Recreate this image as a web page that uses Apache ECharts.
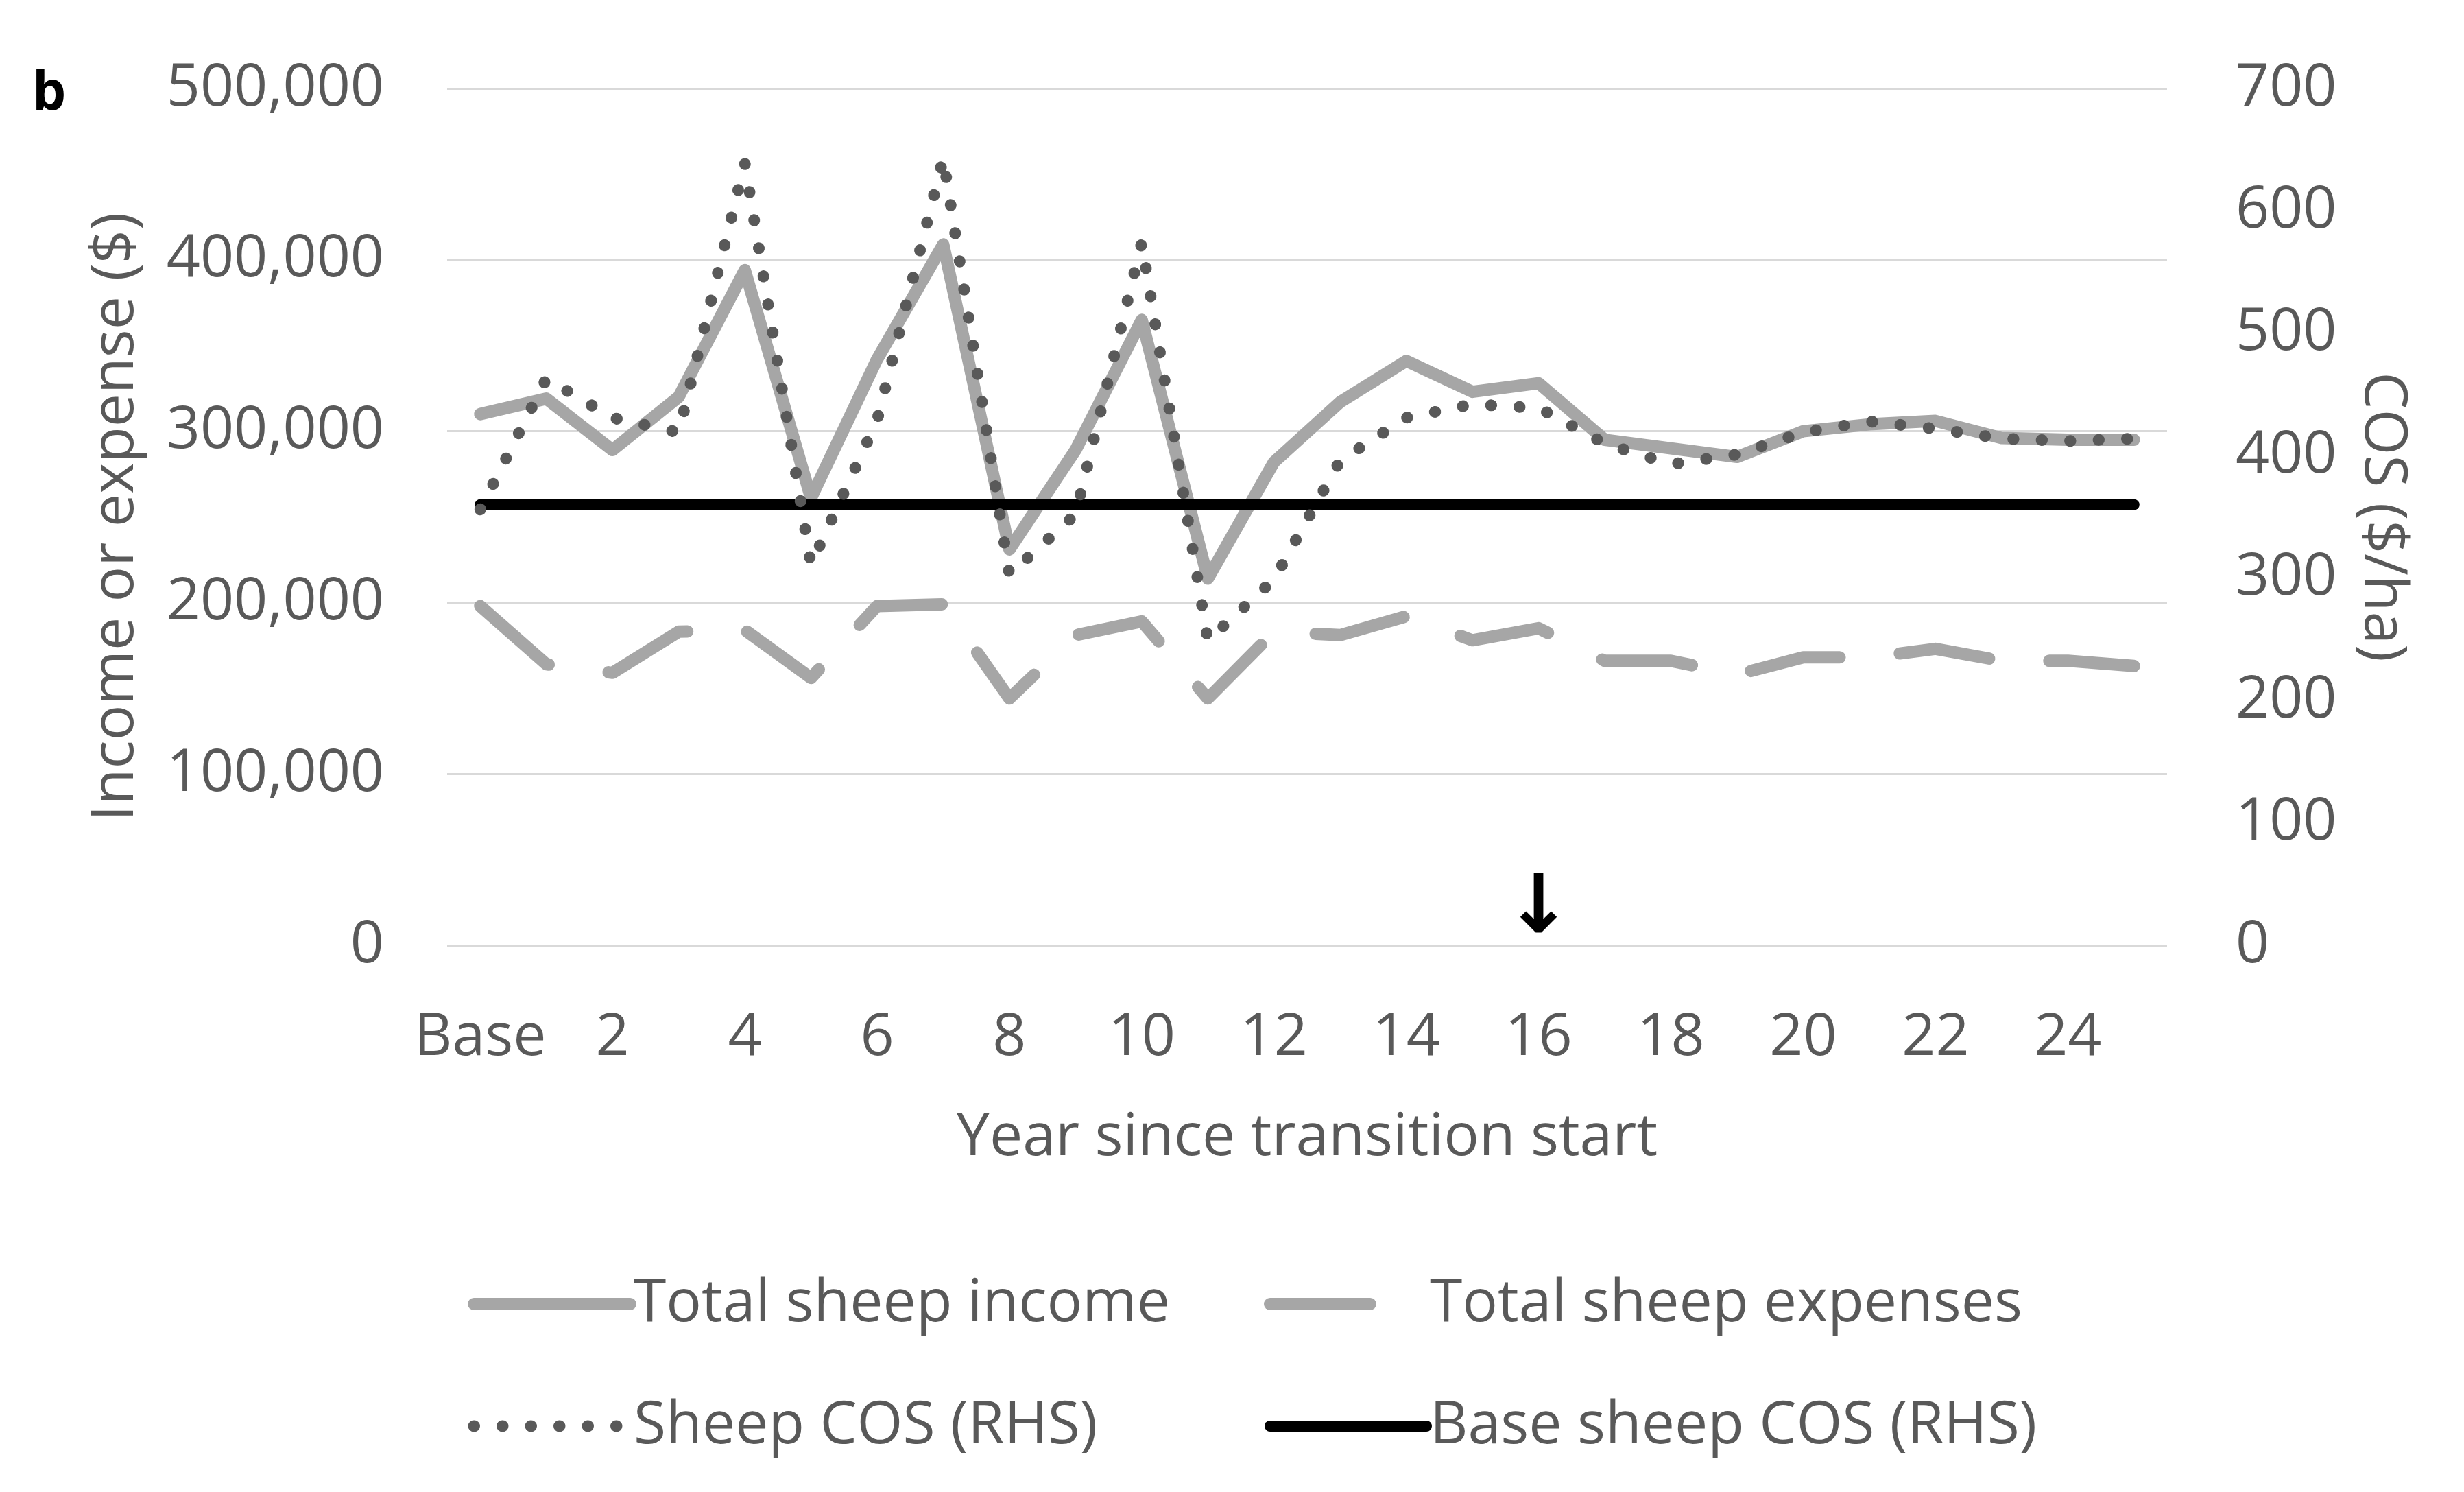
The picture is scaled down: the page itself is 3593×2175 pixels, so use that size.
<!DOCTYPE html>
<html><head><meta charset="utf-8">
<script src="https://cdn.jsdelivr.net/npm/echarts@6/dist/echarts.min.js"></script>
<style>html,body{margin:0;padding:0;background:#fff}#c{width:3593px;height:2175px}</style>
</head><body><div id="c"></div>
<script>
const categories = ['Base','1','2','3','4','5','6','7','8','9','10','11','12','13','14','15','16','17','18','19','20','21','22','23','24','25'];
const totalSheepIncome = [310000,319000,289000,320000,394000,261000,342000,409000,231000,289000,365000,214000,282000,317000,341000,323000,328000,295000,290000,285000,300000,304000,306000,296000,295000,295000];
const totalSheepExpenses = [198000,164000,159000,183000,184000,156000,198000,199000,144000,181000,189000,144000,183000,181000,192000,178000,185000,166000,166000,158000,168000,168000,173000,166000,166000,163000];
const sheepCOS = [356,463,431,419,639,311,429,643,303,352,574,249,299,396,431,442,439,410,393,401,419,428,422,414,412,414];
const baseSheepCOS = [360,360,360,360,360,360,360,360,360,360,360,360,360,360,360,360,360,360,360,360,360,360,360,360,360,360];
const leftTicks = {min:0, max:500000, interval:100000};
const rightTicks = {min:0, max:700, interval:100};
const arrowYear = '16';

const FONT = '"Open Sans","Noto Sans",sans-serif';
const TXT = '#595959';
const chart = echarts.init(document.getElementById('c'), null, {renderer:'canvas'});
const legendCommon = {
  orient:'vertical', itemWidth:228, itemHeight:40, itemGap:78,
  textStyle:{fontSize:86, color:TXT, fontFamily:FONT, lineHeight:100},
  itemStyle:{opacity:0}, lineStyle:{width:'inherit'}, selectedMode:false
};
chart.setOption({
  animation:false,
  backgroundColor:'#fff',
  title:{text:'b', left:42, top:94, textStyle:{fontSize:78, fontWeight:'bold', color:'#000', fontFamily:FONT}},
  grid:{left:652, right:433, top:129, bottom:797, containLabel:false},
  legend:[
    Object.assign({data:['Total sheep income','Sheep COS (RHS)'], left:677, top:1846}, legendCommon),
    Object.assign({data:[{name:'Total sheep expenses', lineStyle:{type:[146,400]}},'Base sheep COS (RHS)'], left:1838, top:1846}, legendCommon)
  ],
  xAxis:{
    type:'category', data:categories, boundaryGap:true,
    axisLine:{show:false}, axisTick:{show:false},
    axisLabel:{interval:1, fontSize:86, color:TXT, fontFamily:FONT, margin:92},
    name:'Year since transition start', nameLocation:'middle', nameGap:238,
    nameTextStyle:{fontSize:86, color:TXT, fontFamily:FONT}
  },
  yAxis:[
    {type:'value', min:leftTicks.min, max:leftTicks.max, interval:leftTicks.interval,
     axisLine:{show:false}, axisTick:{show:false},
     splitLine:{show:true, lineStyle:{color:'#d9d9d9', width:3}},
     axisLabel:{fontSize:86, color:TXT, fontFamily:FONT, margin:92, formatter:v=>v.toLocaleString('en-US')},
     name:'Income or expense ($)', nameLocation:'middle', nameGap:440, nameRotate:90,
     nameTextStyle:{fontSize:86, color:TXT, fontFamily:FONT}},
    {type:'value', position:'right', min:rightTicks.min, max:rightTicks.max, interval:rightTicks.interval,
     axisLine:{show:false}, axisTick:{show:false}, splitLine:{show:false},
     axisLabel:{fontSize:86, color:TXT, fontFamily:FONT, margin:100},
     name:'COS ($/ha)', nameLocation:'middle', nameGap:270, nameRotate:-90,
     nameTextStyle:{fontSize:86, color:TXT, fontFamily:FONT}}
  ],
  series:[
    {name:'Total sheep income', type:'line', yAxisIndex:0, data:totalSheepIncome, symbol:'none', z:2,
     itemStyle:{color:'#a6a6a6'},
     lineStyle:{color:'#a6a6a6', width:18, cap:'round', join:'round'},
     markPoint:{symbol:'circle', symbolSize:1, itemStyle:{color:'rgba(0,0,0,0)'},
       label:{show:true, position:'inside', formatter:'\u2193', fontSize:118, fontWeight:'bold', color:'#000', fontFamily:'"DejaVu Sans",sans-serif'},
       data:[{coord:[arrowYear, 20000]}]}},
    {name:'Total sheep expenses', type:'line', yAxisIndex:0, data:totalSheepExpenses, symbol:'none', z:2,
     itemStyle:{color:'#a6a6a6'},
     lineStyle:{color:'#a6a6a6', width:18, type:[132,88], cap:'round', join:'round'}},
    {name:'Sheep COS (RHS)', type:'line', yAxisIndex:1, data:sheepCOS, symbol:'none', z:4,
     itemStyle:{color:'#595959'},
     lineStyle:{color:'#595959', width:17, type:[0.5,41], cap:'round', join:'round'}},
    {name:'Base sheep COS (RHS)', type:'line', yAxisIndex:1, data:baseSheepCOS, symbol:'none', z:3,
     itemStyle:{color:'#000'},
     lineStyle:{color:'#000', width:16, cap:'round', join:'round'}}
  ]
});
</script></body></html>
